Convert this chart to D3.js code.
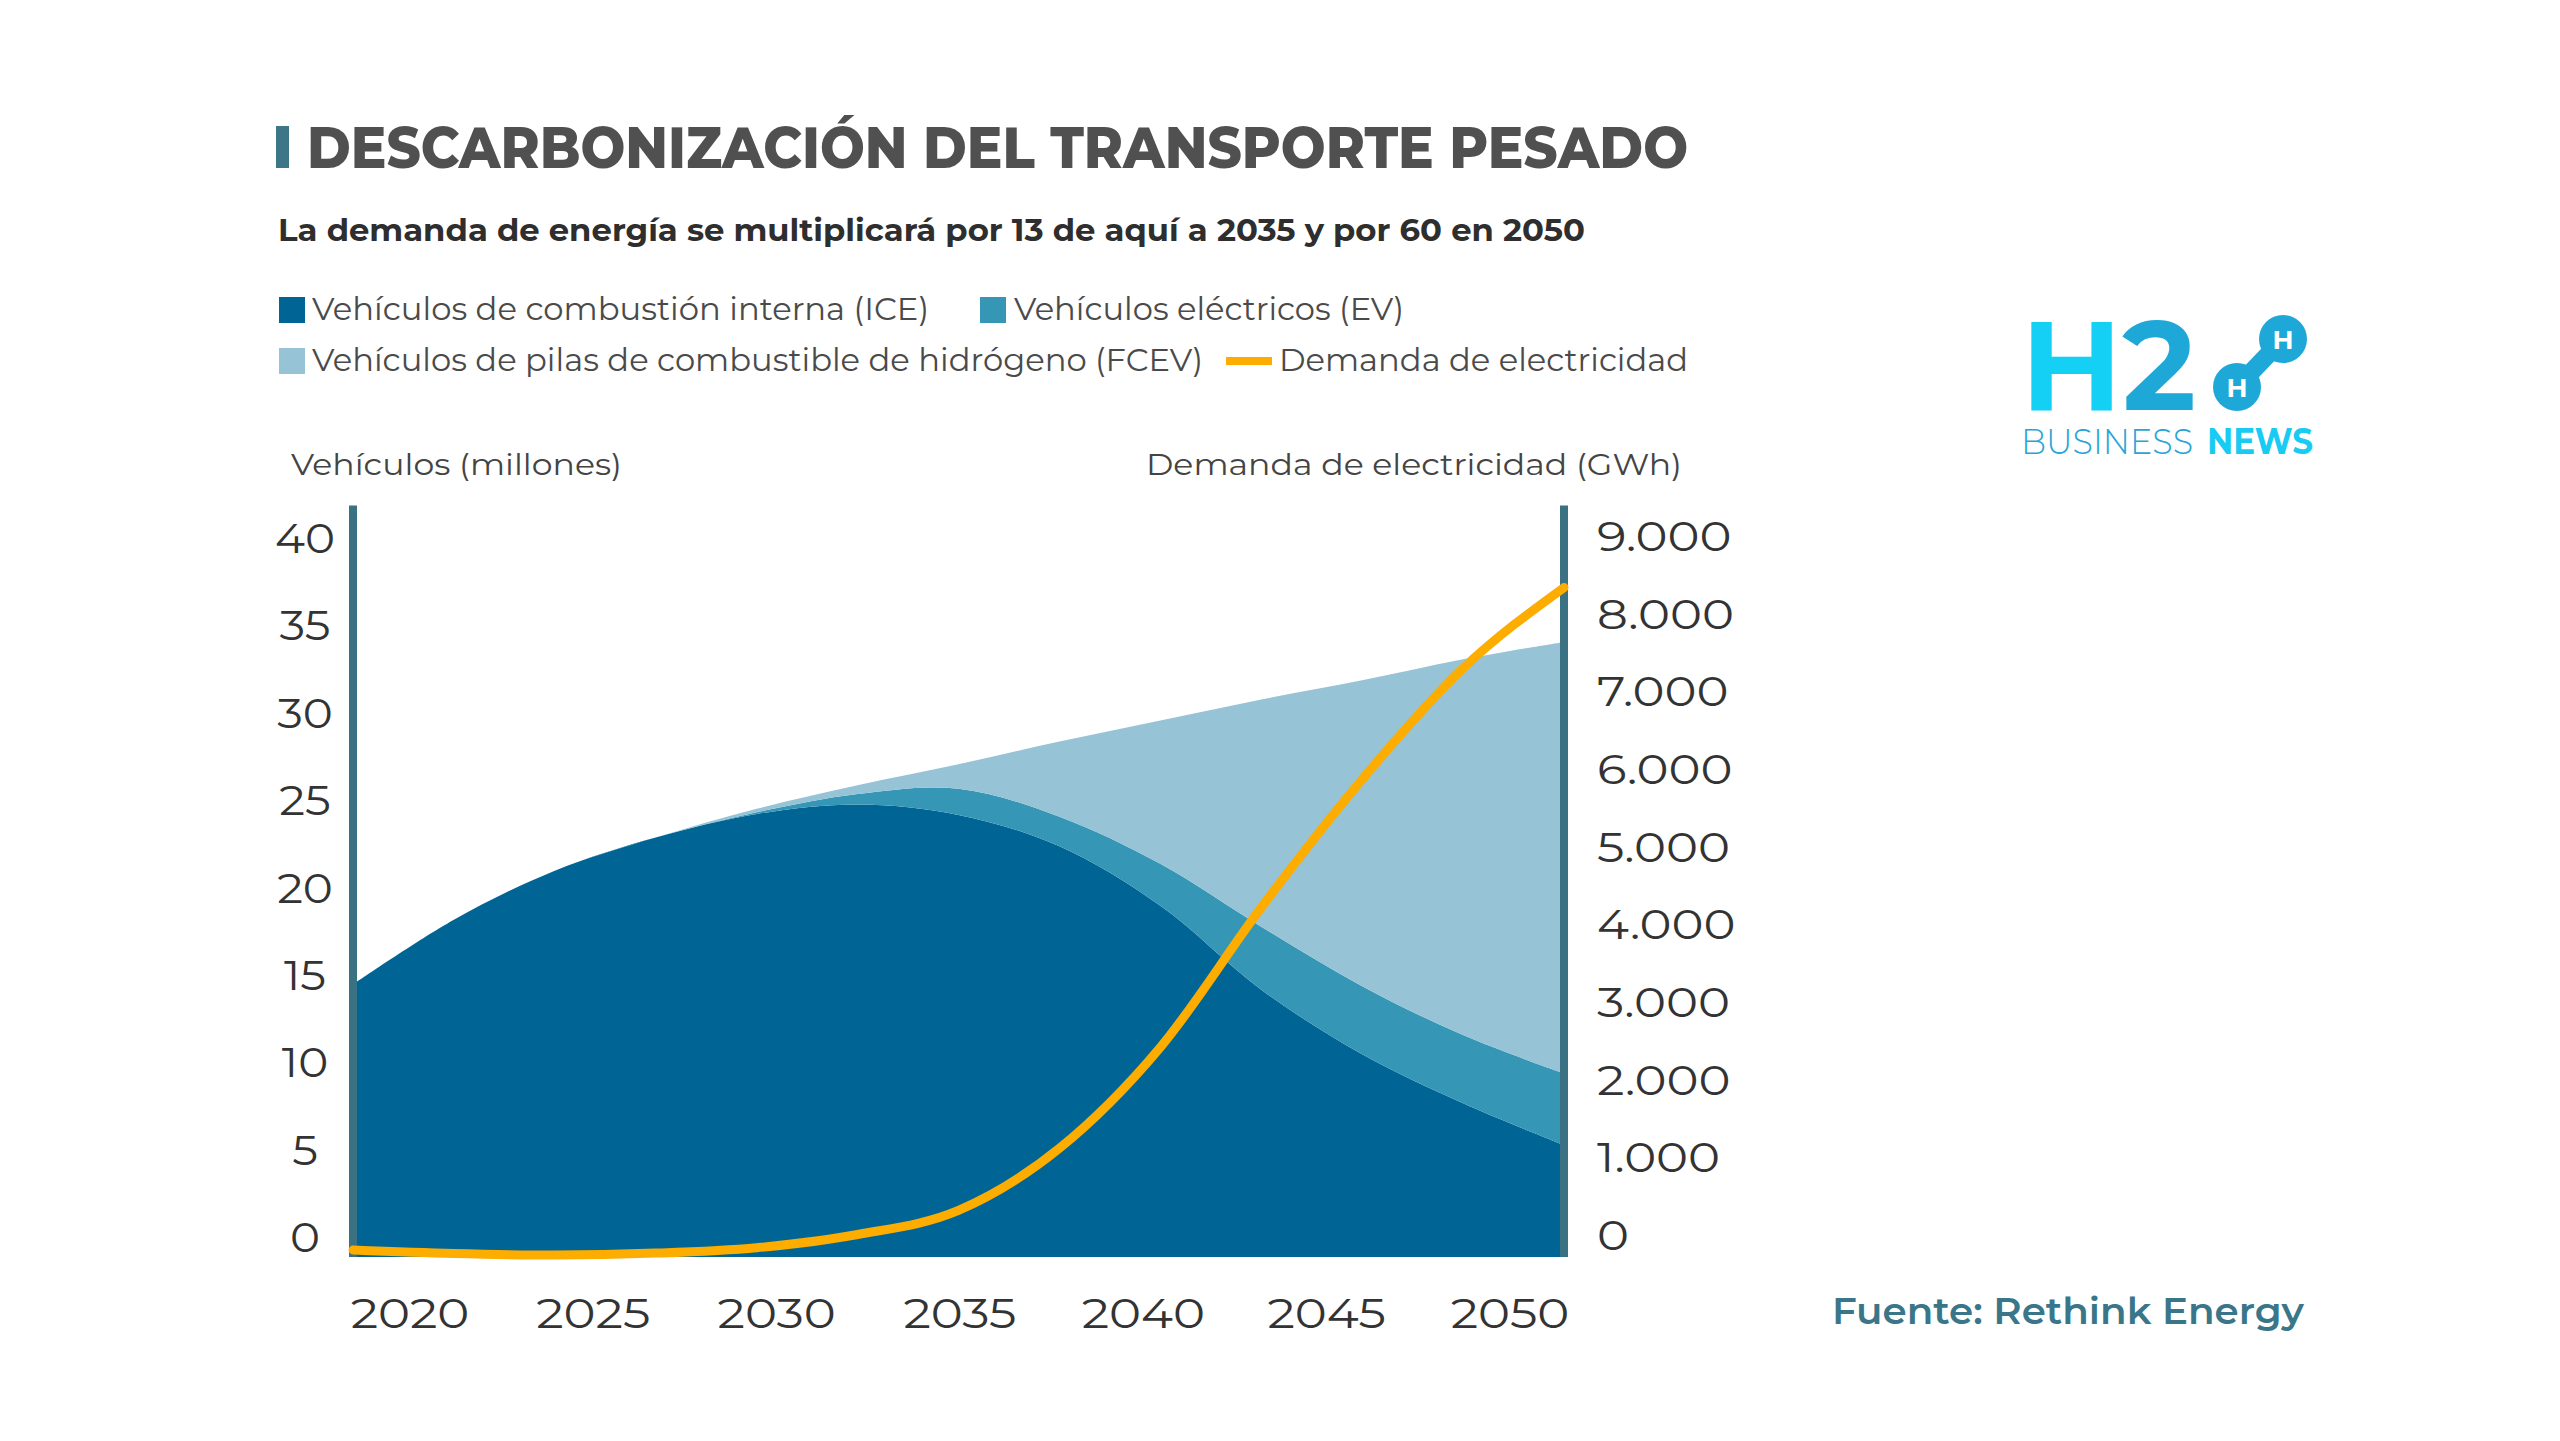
<!DOCTYPE html>
<html>
<head>
<meta charset="utf-8">
<script src="https://cdn.jsdelivr.net/npm/d3@7"></script>
<style>
  html, body { margin: 0; padding: 0; background: #ffffff; }
  svg { display: block; }
</style>
</head>
<body>
<svg id="chart" width="2560" height="1441"></svg>
<script>
// ---------------- DATA ----------------
const years       = [2020, 2022.5, 2025, 2027.5, 2030, 2032.5, 2035, 2037.5, 2040, 2042.5, 2045, 2047.5, 2050];
const iceValues   = [15.6, 19.3, 22.1, 24.0, 25.35, 25.9, 25.3, 23.5, 20.1, 15.3, 11.6, 8.8, 6.4];
const evValues    = [0, 0, 0, 0, 0.1, 0.6, 1.5, 1.7, 2.4, 3.6, 3.9, 3.9, 4.1];
const fcevValues  = [0, 0, 0, 0, 0.2, 0.5, 1.4, 4.3, 8.2, 13.0, 17.5, 21.5, 24.7];
const electricity = [90, 45, 25, 50, 120, 290, 600, 1400, 2700, 4500, 6150, 7580, 8620];

const leftTicks  = [0, 5, 10, 15, 20, 25, 30, 35, 40];
const rightTicks = [0, 1000, 2000, 3000, 4000, 5000, 6000, 7000, 8000, 9000];
const xTicks     = [2020, 2025, 2030, 2035, 2040, 2045, 2050];

const seriesKeys   = ["ice", "ev", "fcev"];
const seriesColors = { ice: "#006594", ev: "#3596b6", fcev: "#97c3d6" };
const lineColor    = "#fdac00";

const titleText    = "DESCARBONIZACIÓN DEL TRANSPORTE PESADO";
const subtitleText = "La demanda de energía se multiplicará por 13 de aquí a 2035 y por 60 en 2050";
const legendLabels = [
  "Vehículos de combustión interna (ICE)",
  "Vehículos eléctricos (EV)",
  "Vehículos de pilas de combustible de hidrógeno (FCEV)",
  "Demanda de electricidad"
];
const leftAxisTitle  = "Vehículos (millones)";
const rightAxisTitle = "Demanda de electricidad (GWh)";
const sourceText     = "Fuente: Rethink Energy";

// ---------------- SETUP ----------------
const FONT = "Montserrat, 'Open Sans', 'Noto Sans', sans-serif";
const svg = d3.select("#chart");

const rows = years.map((y, i) => ({ year: y, ice: iceValues[i], ev: evValues[i], fcev: fcevValues[i], elec: electricity[i] }));

const plotLeft = 353, plotRight = 1564, plotBottom = 1257, plotTop = 558;
const x  = d3.scaleLinear().domain([2020, 2050]).range([plotLeft, plotRight]);
const xLabel = d3.scaleLinear().domain([2020, 2050]).range([410, 1510]);
const yL = d3.scaleLinear().domain([0, 40]).range([plotBottom, plotTop]);
const yR = d3.scaleLinear().domain([0, 9000]).range([plotBottom, plotTop]);

const esLocale = d3.formatLocale({ decimal: ",", thousands: ".", grouping: [3], currency: ["", " €"] });
const fmtR = esLocale.format(",");
const curve = d3.curveCatmullRom.alpha(0.5);

// ---------------- TITLE ----------------
svg.append("rect").attr("x", 276).attr("y", 126).attr("width", 13).attr("height", 42).attr("fill", "#3d7787");
svg.append("text")
  .attr("x", 307).attr("y", 168)
  .attr("font-family", FONT).attr("font-weight", 800).attr("font-size", 57)
  .attr("fill", "#505050")
  .attr("textLength", 1381).attr("lengthAdjust", "spacingAndGlyphs")
  .text(titleText);

svg.append("text")
  .attr("x", 278).attr("y", 241)
  .attr("font-family", FONT).attr("font-weight", 700).attr("font-size", 31)
  .attr("fill", "#2e2e2e")
  .attr("textLength", 1307).attr("lengthAdjust", "spacingAndGlyphs")
  .text(subtitleText);

// ---------------- LEGEND ----------------
const legendItems = [
  { type: "rect", color: seriesColors.ice,  sx: 279,  sy: 297, tx: 312,  ty: 320, w: 617, label: legendLabels[0] },
  { type: "rect", color: seriesColors.ev,   sx: 980,  sy: 297, tx: 1014, ty: 320, w: 390, label: legendLabels[1] },
  { type: "rect", color: seriesColors.fcev, sx: 279,  sy: 348, tx: 312,  ty: 371, w: 891, label: legendLabels[2] },
  { type: "line", color: lineColor,         sx: 1226, sy: 361, tx: 1279, ty: 371, w: 409, label: legendLabels[3] }
];
const lg = svg.append("g");
legendItems.forEach(d => {
  if (d.type === "rect") {
    lg.append("rect").attr("x", d.sx).attr("y", d.sy).attr("width", 26).attr("height", 26).attr("fill", d.color);
  } else {
    lg.append("line").attr("x1", d.sx).attr("x2", d.sx + 46).attr("y1", d.sy).attr("y2", d.sy)
      .attr("stroke", d.color).attr("stroke-width", 8);
  }
  lg.append("text").attr("x", d.tx).attr("y", d.ty)
    .attr("font-family", FONT).attr("font-weight", 400).attr("font-size", 31)
    .attr("fill", "#4a4a4a")
    .attr("textLength", d.w).attr("lengthAdjust", "spacingAndGlyphs")
    .text(d.label);
});

// ---------------- AXIS TITLES ----------------
svg.append("text").attr("x", 291).attr("y", 475)
  .attr("font-family", FONT).attr("font-size", 30).attr("fill", "#444")
  .attr("textLength", 331).attr("lengthAdjust", "spacingAndGlyphs")
  .text(leftAxisTitle);
svg.append("text").attr("x", 1146).attr("y", 475)
  .attr("font-family", FONT).attr("font-size", 30).attr("fill", "#444")
  .attr("textLength", 536).attr("lengthAdjust", "spacingAndGlyphs")
  .text(rightAxisTitle);

// ---------------- AREAS ----------------
const stacked = d3.stack().keys(seriesKeys)(rows);
const area = d3.area()
  .x(d => x(d.data.year))
  .y0(d => yL(d[0]))
  .y1(d => yL(d[1]))
  .curve(curve);

svg.append("g").selectAll("path")
  .data(stacked)
  .join("path")
  .attr("d", area)
  .attr("fill", d => seriesColors[d.key]);

// ---------------- AXIS LINES ----------------
const axisColor = "#3a7183";
[2020, 2050].forEach(yr => {
  svg.append("line")
    .attr("x1", x(yr)).attr("x2", x(yr))
    .attr("y1", yL(43)).attr("y2", yL(0))
    .attr("stroke", axisColor).attr("stroke-width", 8);
});

// ---------------- ELECTRICITY LINE ----------------
const line = d3.line()
  .x(d => x(d.year))
  .y(d => yR(d.elec))
  .curve(d3.curveMonotoneX);
svg.append("path")
  .datum(rows)
  .attr("d", line)
  .attr("fill", "none")
  .attr("stroke", lineColor)
  .attr("stroke-width", 9)
  .attr("stroke-linecap", "round")
  .attr("stroke-linejoin", "round");

// ---------------- TICK LABELS ----------------
const TICK_SIZE = 42;
function widen(sel, k) {
  sel.each(function () {
    const w = this.getComputedTextLength();
    d3.select(this).attr("textLength", w * k).attr("lengthAdjust", "spacingAndGlyphs");
  });
}

svg.append("g").selectAll("text")
  .data(leftTicks).join("text")
  .attr("x", 305).attr("y", d => yL(d) - 5)
  .attr("text-anchor", "middle")
  .attr("font-family", FONT).attr("font-size", TICK_SIZE).attr("font-weight", 400)
  .attr("fill", "#333")
  .text(d => d)
  .call(widen, 1.08);

svg.append("g").selectAll("text")
  .data(rightTicks).join("text")
  .attr("x", 1597).attr("y", d => yR(d) - 7)
  .attr("text-anchor", "start")
  .attr("font-family", FONT).attr("font-size", TICK_SIZE).attr("font-weight", 400)
  .attr("fill", "#333")
  .text(d => fmtR(d))
  .call(widen, 1.15);

svg.append("g").selectAll("text")
  .data(xTicks).join("text")
  .attr("x", d => xLabel(d)).attr("y", 1328)
  .attr("text-anchor", "middle")
  .attr("font-family", FONT).attr("font-size", TICK_SIZE).attr("font-weight", 400)
  .attr("fill", "#333")
  .text(d => d)
  .call(widen, 1.15);

// ---------------- SOURCE ----------------
svg.append("text").attr("x", 1832).attr("y", 1324)
  .attr("font-family", FONT).attr("font-size", 37).attr("font-weight", 600)
  .attr("fill", "#3a7689")
  .attr("textLength", 472).attr("lengthAdjust", "spacingAndGlyphs")
  .text(sourceText);

// ---------------- LOGO ----------------
const logo = svg.append("g");
const h2 = logo.append("text").attr("x", 2021).attr("y", 410)
  .attr("font-family", FONT).attr("font-weight", 700).attr("font-size", 126)
  .attr("textLength", 175).attr("lengthAdjust", "spacingAndGlyphs");
h2.append("tspan").attr("fill", "#15d0f5").text("H");
h2.append("tspan").attr("fill", "#1ea8d8").text("2");

logo.append("line").attr("x1", 2237).attr("y1", 387).attr("x2", 2283).attr("y2", 339)
  .attr("stroke", "#1ea8d8").attr("stroke-width", 18);
[[2237, 387], [2283, 339]].forEach(c => {
  logo.append("circle").attr("cx", c[0]).attr("cy", c[1]).attr("r", 24).attr("fill", "#1ea8d8");
  logo.append("text").attr("x", c[0]).attr("y", c[1] + 9.5)
    .attr("text-anchor", "middle")
    .attr("font-family", FONT).attr("font-weight", 700).attr("font-size", 26)
    .attr("fill", "#ffffff").text("H");
});
logo.append("text").attr("x", 2021).attr("y", 454)
  .attr("font-family", FONT).attr("font-weight", 300).attr("font-size", 36)
  .attr("fill", "#2aa4d6")
  .attr("textLength", 172).attr("lengthAdjust", "spacingAndGlyphs")
  .text("BUSINESS");
logo.append("text").attr("x", 2207).attr("y", 454)
  .attr("font-family", FONT).attr("font-weight", 700).attr("font-size", 36)
  .attr("fill", "#18cbf3")
  .attr("textLength", 106).attr("lengthAdjust", "spacingAndGlyphs")
  .text("NEWS");
</script>
</body>
</html>
